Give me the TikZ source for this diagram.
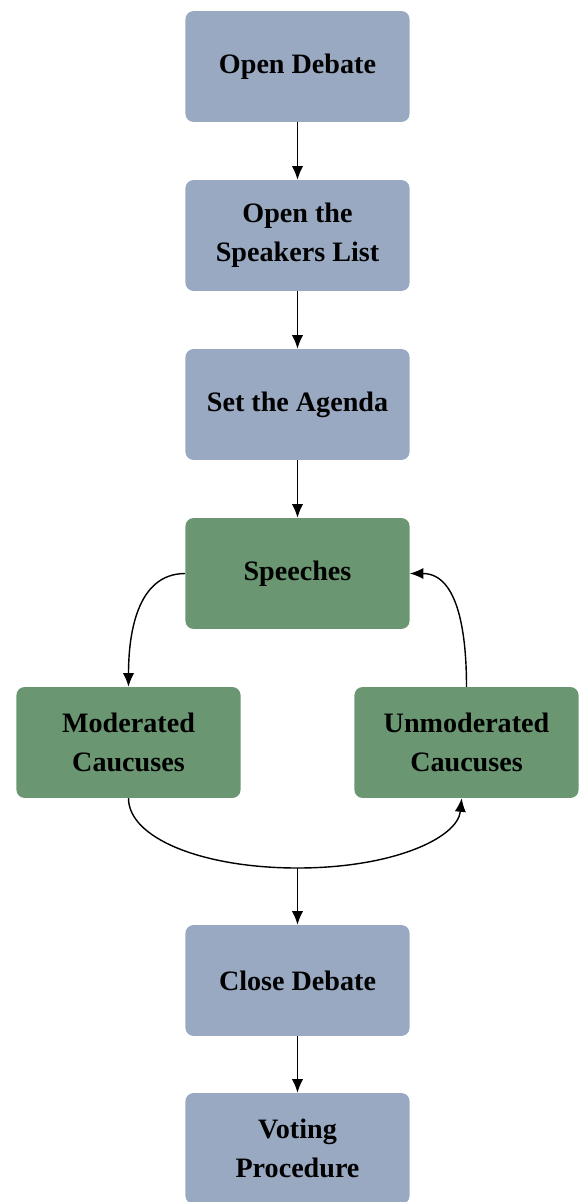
\documentclass[tikz,border=0pt]{standalone}
\usepackage{fontspec}
\setmainfont{Liberation Serif}
\usetikzlibrary{arrows.meta}
\definecolor{stepblue}{HTML}{98A9C1}
\definecolor{loopgreen}{HTML}{6A9672}
\begin{document}
\begin{tikzpicture}[x=0.025cm,y=-0.025cm,
  box/.style={rounded corners=0.2cm, minimum width=5.6cm, minimum height=2.77cm,
    align=center, inner sep=0pt, font=\fontsize{20}{28}\selectfont\bfseries},
  bluebox/.style={box, fill=stepblue},
  greenbox/.style={box, fill=loopgreen},
  link/.style={-{Latex[length=3.4mm,width=2.8mm]}, line width=1pt}]
\useasboundingbox (0,0) rectangle (580,1202);
\node[bluebox] (open) at (297.5,66.5){Open Debate};
\node[bluebox] (speakers) at (297.5,235.5){Open the\\Speakers List};
\node[bluebox] (agenda) at (297.5,404.5){Set the Agenda};
\node[greenbox] (speeches) at (297.5,573.5){Speeches};
\node[greenbox] (mod) at (128.5,742.5){Moderated\\Caucuses};
\node[greenbox] (unmod) at (466.5,742.5){Unmoderated\\Caucuses};
\node[bluebox] (close) at (297.5,980.5){Close Debate};
\node[bluebox] (vote) at (297.5,1148.5){Voting\\Procedure};
\coordinate (mid) at (297.5,868);
\draw[link] (open) -- (speakers);
\draw[link] (speakers) -- (agenda);
\draw[link] (agenda) -- (speeches);
\draw[link] (speeches.west) to[out=180,in=90] (mod.north);
\draw[link] (unmod.north) to[out=90,in=0] (speeches.east);
\draw[link] (mod.south) .. controls +(0,40) and +(-95,0) .. (mid)
  .. controls +(95,0) and +(-4,40) .. ([xshift=-0.12cm]unmod.south);
\draw[link] (mid) -- (close);
\draw[link] (close) -- (vote);
\end{tikzpicture}
\end{document}
